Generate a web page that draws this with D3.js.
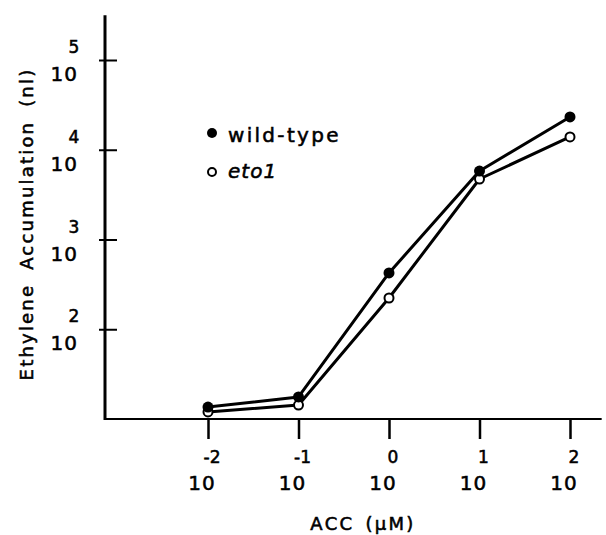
<!DOCTYPE html>
<html>
<head>
<meta charset="utf-8">
<script src="https://cdn.jsdelivr.net/npm/d3@7"></script>
<style>
    body { margin: 0; background: #fff; }
    text { font-family: "DejaVu Sans", sans-serif; fill: #000; stroke: #000; stroke-width: 0.55px; }
</style>
</head>
<body>
<main></main>
<script>
const width = 606;
const height = 535;

// ACC concentrations (uM) and ethylene accumulation (nl)
const acc = [0.01, 0.1, 1, 10, 100];
const wildType = [13.6, 17.6, 424, 5790, 23200];
const eto1 = [12.0, 14.3, 223, 4720, 13900];
const xTickExponents = ["-2", "-1", "0", "1", "2"];
const yTicks = [1e2, 1e3, 1e4, 1e5];
const yTickExponents = ["2", "3", "4", "5"];

const createCanvas = () => {
    return d3.select("main")
             .append("svg")
             .attr("width", width)
             .attr("height", height);
};

const calculateScales = () => {
    const xScale = d3.scaleLog()
                     .domain([0.01, 100])
                     .range([208, 570]);
    const yScale = d3.scaleLog()
                     .domain([10, 1e5])
                     .range([419, 60]);
    return {xScale, yScale};
};

const createAxes = (scales, svg) => {
    const x0 = scales.xScale(Math.pow(10, -3.14));
    const x1 = scales.xScale(Math.pow(10, 2.35));
    const yBottom = scales.yScale(10);
    const yTop = scales.yScale(Math.pow(10, 5.5));

    // x axis
    const xAxis = svg.append("g")
       .attr("id", "x-axis")
       .attr("transform", `translate(0, ${yBottom})`)
       .call(d3.axisBottom(scales.xScale).tickValues(acc).tickSize(20).tickFormat(""));
    xAxis.select(".domain").remove();
    xAxis.selectAll(".tick line").attr("stroke", "#000").attr("stroke-width", 2.5);
    svg.append("line")
       .attr("x1", x0).attr("x2", x1)
       .attr("y1", yBottom).attr("y2", yBottom)
       .attr("stroke", "#000").attr("stroke-width", 2);

    acc.forEach((d, i) => {
        svg.append("text")
           .attr("x", scales.xScale(d) + 4)
           .attr("y", 463)
           .attr("text-anchor", "middle")
           .style("font-size", "17px")
           .text(xTickExponents[i]);
        svg.append("text")
           .attr("x", scales.xScale(d) - 6)
           .attr("y", 490)
           .attr("text-anchor", "middle")
           .style("font-size", "20px")
           .style("letter-spacing", "1px")
           .text("10");
    });

    svg.append("text")
       .attr("x", 363)
       .attr("y", 530)
       .attr("text-anchor", "middle")
       .style("font-size", "18px")
       .style("letter-spacing", "2.3px")
       .style("word-spacing", "3px")
       .text("ACC (\u00b5M)");

    // y axis
    const yAxis = svg.append("g")
       .attr("id", "y-axis")
       .attr("transform", "translate(99, 0)")
       .call(d3.axisRight(scales.yScale).tickValues(yTicks).tickSize(18).tickFormat(""));
    yAxis.select(".domain").remove();
    yAxis.selectAll(".tick line").attr("stroke", "#000").attr("stroke-width", 2);
    svg.append("line")
       .attr("x1", 105).attr("x2", 105)
       .attr("y1", yTop).attr("y2", yBottom + 1)
       .attr("stroke", "#000").attr("stroke-width", 3);

    yTicks.forEach((d, i) => {
        svg.append("text")
           .attr("x", 74)
           .attr("y", scales.yScale(d) - 7)
           .attr("text-anchor", "middle")
           .style("font-size", "17px")
           .text(yTickExponents[i]);
        svg.append("text")
           .attr("x", 78)
           .attr("y", scales.yScale(d) + 21)
           .attr("text-anchor", "end")
           .style("font-size", "20px")
           .style("letter-spacing", "1px")
           .text("10");
    });

    svg.append("text")
       .attr("transform", "translate(33, 224) rotate(-90)")
       .attr("text-anchor", "middle")
       .style("font-size", "18px")
       .style("letter-spacing", "2.2px")
       .style("word-spacing", "6px")
       .text("Ethylene Accumulation (nl)");
};

const createSeries = (scales, svg) => {
    const line = d3.line()
                   .x((d, i) => scales.xScale(acc[i]))
                   .y((d) => scales.yScale(d));

    [wildType, eto1].forEach((values) => {
        svg.append("path")
           .datum(values)
           .attr("d", line)
           .attr("fill", "none")
           .attr("stroke", "#000")
           .attr("stroke-width", 3)
           .attr("stroke-linejoin", "round");
    });

    svg.selectAll(".dot-eto1")
       .data(eto1)
       .enter()
       .append("circle")
       .attr("class", "dot-eto1")
       .attr("cx", (d, i) => scales.xScale(acc[i]))
       .attr("cy", (d) => scales.yScale(d))
       .attr("r", 4.5)
       .attr("fill", "#fff")
       .attr("stroke", "#000")
       .attr("stroke-width", 2);

    svg.selectAll(".dot-wt")
       .data(wildType)
       .enter()
       .append("circle")
       .attr("class", "dot-wt")
       .attr("cx", (d, i) => scales.xScale(acc[i]))
       .attr("cy", (d) => scales.yScale(d))
       .attr("r", 5.5)
       .attr("fill", "#000");
};

const createLegend = (svg) => {
    svg.append("circle")
       .attr("cx", 212).attr("cy", 133).attr("r", 5)
       .attr("fill", "#000");
    svg.append("text")
       .attr("x", 228).attr("y", 142)
       .style("font-size", "20px")
       .style("letter-spacing", "2.3px")
       .text("wild-type");

    svg.append("circle")
       .attr("cx", 212).attr("cy", 172).attr("r", 4)
       .attr("fill", "#fff")
       .attr("stroke", "#000")
       .attr("stroke-width", 2);
    svg.append("text")
       .attr("x", 228).attr("y", 178)
       .style("font-size", "20px")
       .style("font-style", "italic")
       .style("letter-spacing", "1px")
       .text("eto1");
};

const driver = () => {
    const svg = createCanvas();
    const scales = calculateScales();
    createAxes(scales, svg);
    createSeries(scales, svg);
    createLegend(svg);
};

driver();
</script>
</body>
</html>
